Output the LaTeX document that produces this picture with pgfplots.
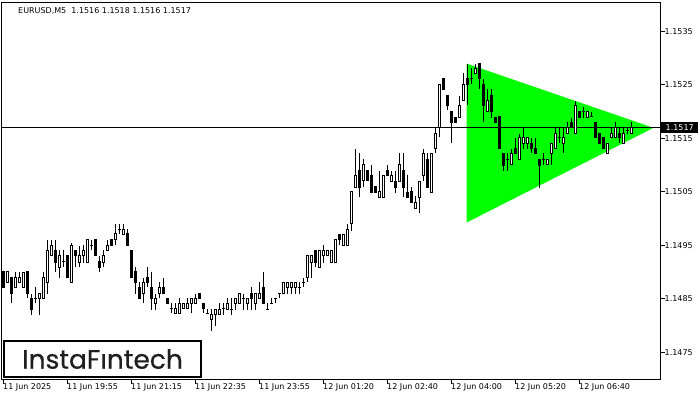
\documentclass[border=0pt]{standalone}
\usepackage{pgfplots}
\pgfplotsset{compat=1.18}
\usepackage{pgfplotstable}
\usepackage{fontspec}
\setmainfont{DejaVu Sans}
\newfontfamily\logofont[FakeBold=0.5]{Poppins}
\definecolor{triGreen}{RGB}{0,255,0}

\pgfplotstableread{
i o h l c
0 1.14901 1.14901 1.14872 1.14872
1 1.14881 1.14901 1.14881 1.14901
2 1.14890 1.14890 1.14842 1.14860
3 1.14872 1.14901 1.14872 1.14890
4 1.14881 1.14901 1.14881 1.14890
5 1.14872 1.14901 1.14872 1.14900
6 1.14901 1.14901 1.14851 1.14860
7 1.14851 1.14860 1.14821 1.14830
8 1.14851 1.14872 1.14842 1.14851
9 1.14851 1.14860 1.14821 1.14860
10 1.14851 1.14901 1.14851 1.14890
11 1.14881 1.14961 1.14860 1.14941
12 1.14931 1.14961 1.14931 1.14950
13 1.14941 1.14961 1.14900 1.14918
14 1.14909 1.14941 1.14890 1.14931
15 1.14920 1.14941 1.14909 1.14920
16 1.14931 1.14931 1.14890 1.14890
17 1.14881 1.14954 1.14881 1.14950
18 1.14941 1.14941 1.14909 1.14931
19 1.14918 1.14950 1.14909 1.14931
20 1.14931 1.14950 1.14918 1.14941
21 1.14918 1.14961 1.14918 1.14961
22 1.14950 1.14961 1.14941 1.14950
23 1.14961 1.14961 1.14931 1.14931
24 1.14920 1.14931 1.14900 1.14909
25 1.14918 1.14941 1.14909 1.14931
26 1.14941 1.14961 1.14941 1.14950
27 1.14961 1.14961 1.14950 1.14950
28 1.14961 1.14991 1.14950 1.14972
29 1.14980 1.14991 1.14972 1.14980
30 1.14971 1.14991 1.14971 1.14980
31 1.14972 1.14980 1.14950 1.14950
32 1.14941 1.14941 1.14890 1.14890
33 1.14901 1.14909 1.14860 1.14881
34 1.14872 1.14881 1.14851 1.14851
35 1.14860 1.14890 1.14842 1.14881
36 1.14890 1.14909 1.14872 1.14881
37 1.14872 1.14901 1.14830 1.14851
38 1.14842 1.14860 1.14830 1.14851
39 1.14860 1.14881 1.14851 1.14872
40 1.14872 1.14890 1.14860 1.14860
41 1.14851 1.14851 1.14842 1.14842
42 1.14832 1.14842 1.14823 1.14832
43 1.14823 1.14842 1.14823 1.14832
44 1.14823 1.14851 1.14823 1.14842
45 1.14832 1.14842 1.14832 1.14842
46 1.14832 1.14851 1.14832 1.14842
47 1.14842 1.14851 1.14823 1.14851
48 1.14842 1.14860 1.14842 1.14851
49 1.14860 1.14860 1.14851 1.14851
50 1.14842 1.14842 1.14823 1.14832
51 1.14823 1.14832 1.14823 1.14823
52 1.14812 1.14832 1.14791 1.14821
53 1.14821 1.14830 1.14800 1.14830
54 1.14821 1.14842 1.14821 1.14830
55 1.14832 1.14842 1.14821 1.14832
56 1.14830 1.14851 1.14830 1.14842
57 1.14830 1.14851 1.14821 1.14830
58 1.14842 1.14851 1.14830 1.14851
59 1.14842 1.14860 1.14842 1.14860
60 1.14851 1.14860 1.14830 1.14851
61 1.14842 1.14851 1.14830 1.14851
62 1.14860 1.14872 1.14830 1.14851
63 1.14842 1.14860 1.14830 1.14860
64 1.14851 1.14881 1.14851 1.14860
65 1.14872 1.14901 1.14842 1.14842
66 1.14830 1.14842 1.14830 1.14830
67 1.14842 1.14851 1.14842 1.14842
68 1.14851 1.14851 1.14842 1.14851
69 1.14860 1.14860 1.14851 1.14860
70 1.14860 1.14881 1.14860 1.14881
71 1.14872 1.14881 1.14860 1.14881
72 1.14872 1.14881 1.14860 1.14881
73 1.14872 1.14881 1.14860 1.14881
74 1.14872 1.14881 1.14860 1.14872
75 1.14881 1.14890 1.14872 1.14881
76 1.14890 1.14931 1.14881 1.14931
77 1.14918 1.14931 1.14890 1.14931
78 1.14941 1.14941 1.14909 1.14918
79 1.14909 1.14941 1.14909 1.14941
80 1.14931 1.14950 1.14918 1.14941
81 1.14931 1.14941 1.14931 1.14941
82 1.14918 1.14941 1.14918 1.14941
83 1.14918 1.14961 1.14918 1.14961
84 1.14971 1.14971 1.14950 1.14961
85 1.14950 1.14971 1.14950 1.14971
86 1.14950 1.14991 1.14950 1.14980
87 1.14991 1.15051 1.14978 1.15051
88 1.15058 1.15131 1.15058 1.15081
89 1.15090 1.15122 1.15040 1.15058
90 1.15071 1.15111 1.15060 1.15101
91 1.15090 1.15090 1.15071 1.15071
92 1.15081 1.15101 1.15049 1.15049
93 1.15060 1.15060 1.15049 1.15049
94 1.15040 1.15090 1.15040 1.15051
95 1.15040 1.15081 1.15040 1.15081
96 1.15090 1.15101 1.15081 1.15081
97 1.15070 1.15090 1.15070 1.15081
98 1.15070 1.15090 1.15049 1.15058
99 1.15070 1.15122 1.15070 1.15101
100 1.15090 1.15122 1.15040 1.15058
101 1.15049 1.15081 1.15040 1.15040
102 1.15051 1.15060 1.15030 1.15030
103 1.15019 1.15042 1.15019 1.15030
104 1.15040 1.15070 1.15010 1.15070
105 1.15081 1.15131 1.15071 1.15122
106 1.15111 1.15122 1.15058 1.15058
107 1.15049 1.15122 1.15049 1.15122
108 1.15131 1.15171 1.15122 1.15159
109 1.15171 1.15251 1.15152 1.15251
110 1.15262 1.15262 1.15242 1.15242
111 1.15230 1.15230 1.15204 1.15212
112 1.15200 1.15200 1.15141 1.15180
113 1.15189 1.15189 1.15180 1.15180
114 1.15189 1.15230 1.15189 1.15212
115 1.15221 1.15272 1.15221 1.15251
116 1.15262 1.15290 1.15212 1.15251
117 1.15262 1.15281 1.15251 1.15262
118 1.15272 1.15290 1.15272 1.15281
119 1.15290 1.15290 1.15243 1.15262
120 1.15251 1.15262 1.15180 1.15212
121 1.15200 1.15242 1.15200 1.15221
122 1.15230 1.15242 1.15189 1.15200
123 1.15189 1.15189 1.15180 1.15180
124 1.15191 1.15191 1.15131 1.15131
125 1.15122 1.15122 1.15090 1.15100
126 1.15111 1.15122 1.15090 1.15111
127 1.15101 1.15131 1.15101 1.15122
128 1.15131 1.15150 1.15122 1.15122
129 1.15111 1.15159 1.15111 1.15152
130 1.15141 1.15171 1.15131 1.15152
131 1.15141 1.15152 1.15131 1.15152
132 1.15141 1.15150 1.15122 1.15131
133 1.15131 1.15150 1.15122 1.15122
134 1.15111 1.15111 1.15058 1.15100
135 1.15111 1.15122 1.15101 1.15111
136 1.15101 1.15111 1.15101 1.15111
137 1.15122 1.15141 1.15101 1.15141
138 1.15131 1.15171 1.15131 1.15159
139 1.15152 1.15171 1.15141 1.15152
140 1.15141 1.15171 1.15122 1.15152
141 1.15159 1.15180 1.15159 1.15171
142 1.15180 1.15189 1.15171 1.15171
143 1.15159 1.15221 1.15159 1.15212
144 1.15200 1.15200 1.15189 1.15189
145 1.15200 1.15208 1.15189 1.15200
146 1.15189 1.15200 1.15189 1.15200
147 1.15191 1.15200 1.15191 1.15191
148 1.15180 1.15180 1.15152 1.15152
149 1.15159 1.15159 1.15141 1.15141
150 1.15152 1.15152 1.15131 1.15131
151 1.15122 1.15141 1.15122 1.15141
152 1.15152 1.15171 1.15152 1.15159
153 1.15152 1.15180 1.15152 1.15171
154 1.15159 1.15171 1.15141 1.15152
155 1.15141 1.15171 1.15141 1.15159
156 1.15165 1.15171 1.15159 1.15165
157 1.15160 1.15180 1.15160 1.15170
}\candles

\begin{document}
\begin{tikzpicture}[font=\fontsize{8}{9.6}\selectfont]
\begin{axis}[
  at={(1.5pt,20.5pt)}, anchor=south west,
  scale only axis, width=659pt, height=377pt,
  xmin=-0.5, xmax=164.25,
  ymin=1.146995, ymax=1.154042,
  axis line style={black, line width=1pt},
  xtick={0,16,32,48,64,80,96,112,128,144},
  xticklabels={11 Jun 2025, 11 Jun 19:55, 11 Jun 21:15, 11 Jun 22:35, 11 Jun 23:55, 12 Jun 01:20, 12 Jun 02:40, 12 Jun 04:00, 12 Jun 05:20, 12 Jun 06:40},
  ytick={1.1475,1.1485,1.1495,1.1505,1.1515,1.1525,1.1535},
  scaled y ticks=false,
  yticklabel pos=right, ytick pos=right, xtick pos=left,
  tick align=outside, major tick length=4pt,
  tick style={black, line width=1pt},
  yticklabel style={anchor=west, inner sep=0pt,
    /pgf/number format/.cd, fixed, fixed zerofill, precision=4, assume math mode=true},
  xticklabel style={anchor=north west, inner sep=0pt, xshift=-0.5pt},
]
% triangle pattern
\addplot[fill=triGreen, draw=none, forget plot] coordinates {(115.8,1.15290) (115.8,1.14993) (162.5,1.15170)} -- cycle;
% current price line
\addplot[black, line width=1pt, mark=none, forget plot] coordinates {(-0.5,1.1517) (164.25,1.1517)};
% wicks
\addplot[draw=none, mark=none, forget plot,
  error bars/.cd, y dir=plus, y explicit, error mark=none,
  error bar style={draw=black, line width=1pt, line cap=butt}]
  table[x=i, y=l, y error plus expr={\thisrow{h}-\thisrow{l}}] {\candles};
% bodies (outline / bearish fill)
\addplot[draw=none, mark=none, forget plot,
  error bars/.cd, y dir=plus, y explicit, error mark=none,
  error bar style={draw=black, line width=3pt, line cap=butt}]
  table[x=i, y expr={min(\thisrow{o},\thisrow{c})-0.0000093},
        y error plus expr={abs(\thisrow{c}-\thisrow{o})+0.0000187}] {\candles};
% bullish hollow interiors (zero length for bearish candles)
\addplot[draw=none, mark=none, forget plot,
  error bars/.cd, y dir=plus, y explicit, error mark=none,
  error bar style={draw=white, line width=1pt, line cap=butt}]
  table[x=i, y expr={\thisrow{o}+0.0000093},
        y error plus expr={max(\thisrow{c}-\thisrow{o}-0.0000187,0)}] {\candles};
\coordinate (cp) at (axis cs:164.25,1.1517);
\end{axis}
\node[fill=black, text=white, anchor=west, inner xsep=4.5pt, inner ysep=0pt, minimum height=11pt] at ([xshift=0.5pt]cp) {1.1517};
\node[anchor=west, inner sep=0pt] at (18pt,389pt) {EURUSD,M5\ \ 1.1516 1.1518 1.1516 1.1517};
\draw[line width=2pt, fill=white] (4pt,23pt) rectangle (201pt,59pt);
\node[text=black!88, inner sep=0pt] at (102.5pt,41pt) {\logofont\fontsize{26.5}{30}\selectfont InstaF\i ntech};
\pgfresetboundingbox
\path[use as bounding box] (0,0) rectangle (700pt,400pt);
\end{tikzpicture}
\end{document}
